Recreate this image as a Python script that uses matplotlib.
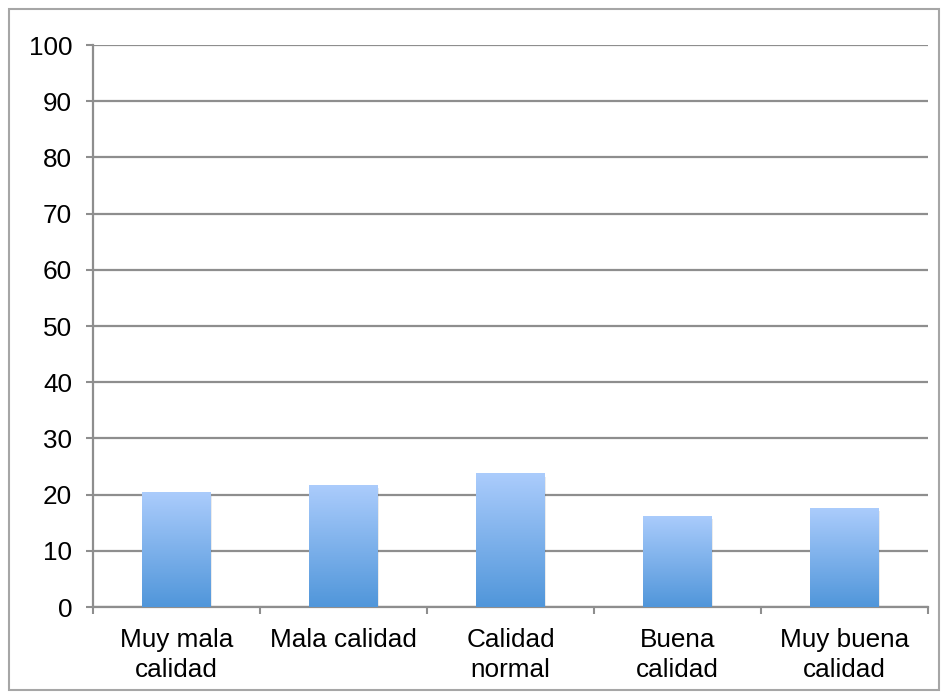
import matplotlib
matplotlib.use("Agg")
import matplotlib.pyplot as plt
import numpy as np
from matplotlib.colors import LinearSegmentedColormap
from matplotlib.patches import Rectangle

plt.rcParams["font.family"] = ["Liberation Sans", "DejaVu Sans"]

categories = ["Muy mala\ncalidad", "Mala calidad", "Calidad\nnormal",
              "Buena\ncalidad", "Muy buena\ncalidad"]
values = [20.4, 21.7, 23.8, 16.2, 17.6]
y_ticks = list(range(0, 101, 10))

bar_width = 0.41
grid_color = "#8e8e8e"
gradient = LinearSegmentedColormap.from_list("bar_blue", ["#5096da", "#abccfc"])

fig = plt.figure(figsize=(9.48, 6.99), dpi=100)
ax = fig.add_axes([0.0981, 0.1316, 0.8808, 0.804])

# grey frame round the whole chart
fig.patches.append(Rectangle((9 / 948, 9 / 699), 930 / 948, 681 / 699,
                             transform=fig.transFigure, fill=False,
                             edgecolor="#a6a6a6", linewidth=1.5))

ax.set_xlim(-0.5, len(categories) - 0.5)
ax.set_ylim(0, 100)
ax.set_yticks(y_ticks)
ax.yaxis.grid(True, color=grid_color, linewidth=1.6)
ax.set_axisbelow(True)

# vertical gradient for each bar, clipped to its rectangle
grad = np.linspace(0, 1, 256).reshape(-1, 1)
for i, v in enumerate(values):
    x0 = i - bar_width / 2
    shadow = Rectangle((x0 + 0.01, -0.6), bar_width, v, facecolor="#000000",
                       alpha=0.08, edgecolor="none", zorder=2)
    ax.add_patch(shadow)
    rect = Rectangle((x0, 0), bar_width, v, facecolor="none",
                     edgecolor="none", zorder=3)
    ax.add_patch(rect)
    im = ax.imshow(grad, cmap=gradient, aspect="auto", origin="lower",
                   extent=(x0, x0 + bar_width, 0, v), zorder=3)
    im.set_clip_path(rect)

ax.set_xlim(-0.5, len(categories) - 0.5)
ax.set_ylim(0, 100)

# category boundaries carry the tick marks, centres carry the labels
ax.set_xticks(np.arange(len(categories) + 1) - 0.5)
ax.set_xticklabels([])
ax.set_xticks(np.arange(len(categories)), minor=True)
ax.set_xticklabels(categories, minor=True, fontsize=18.8, linespacing=1.32)
ax.tick_params(axis="x", which="major", length=5, width=1.5, color=grid_color)
ax.tick_params(axis="x", which="minor", length=0, pad=15)
ax.tick_params(axis="y", length=5, width=1.5, color=grid_color,
               labelsize=18.8, pad=10)

for side in ("top", "right"):
    ax.spines[side].set_visible(False)
for side in ("left", "bottom"):
    ax.spines[side].set_color(grid_color)
    ax.spines[side].set_linewidth(1.6)

fig.savefig("out.png", dpi=100)
